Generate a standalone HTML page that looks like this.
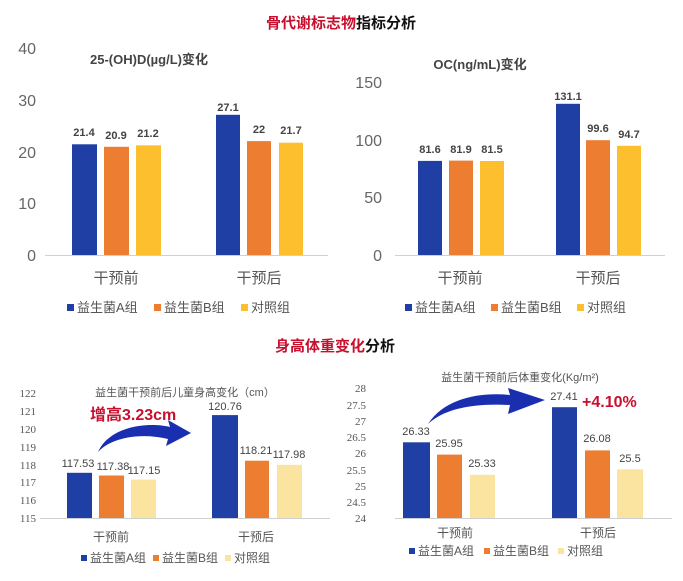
<!DOCTYPE html>
<html><head><meta charset="utf-8"><style>
html,body{margin:0;padding:0;background:#fff;}
svg{display:block;}
text{font-family:"Liberation Sans","Noto Sans CJK SC",sans-serif;}
.ser{font-family:"Liberation Serif","Noto Serif CJK SC",serif;}
</style></head><body>
<svg width="683" height="581" viewBox="0 0 683 581" xmlns="http://www.w3.org/2000/svg">
<text x="341" y="28" text-anchor="middle" font-size="15" font-weight="bold"><tspan fill="#c8102e">骨代谢标志物</tspan><tspan fill="#111">指标分析</tspan></text>
<text x="335" y="351" text-anchor="middle" font-size="15" font-weight="bold"><tspan fill="#c8102e">身高体重变化</tspan><tspan fill="#111">分析</tspan></text>

<g font-size="16" fill="#666" text-anchor="end">
<text x="36" y="54">40</text><text x="36" y="106">30</text><text x="36" y="158">20</text><text x="36" y="209">10</text><text x="36" y="261">0</text>
</g>
<text x="90" y="64" font-size="13" font-weight="bold" fill="#444">25-(OH)D(µg/L)变化</text>
<line x1="45" y1="255.5" x2="328" y2="255.5" stroke="#d0d0d0"/>
<rect x="72" y="144.3" width="25" height="110.7" fill="#1f3fa5"/>
<rect x="104" y="146.8" width="25" height="108.2" fill="#ed7d31"/>
<rect x="136" y="145.3" width="25" height="109.7" fill="#fdbf2d"/>
<rect x="216" y="114.8" width="24" height="140.2" fill="#1f3fa5"/>
<rect x="247" y="141.1" width="24" height="113.9" fill="#ed7d31"/>
<rect x="279" y="142.7" width="24" height="112.3" fill="#fdbf2d"/>
<g font-size="11" font-weight="bold" fill="#444" text-anchor="middle">
<text x="84" y="136">21.4</text><text x="116" y="139">20.9</text><text x="148" y="137">21.2</text>
<text x="228" y="111">27.1</text><text x="259" y="133">22</text><text x="291" y="134">21.7</text>
</g>
<g font-size="15" fill="#555" text-anchor="middle"><text x="116" y="283">干预前</text><text x="259" y="283">干预后</text></g>
<g font-size="13" fill="#555">
<rect x="67" y="304" width="7" height="7" fill="#1f3fa5"/><text x="77" y="312">益生菌A组</text>
<rect x="154" y="304" width="7" height="7" fill="#ed7d31"/><text x="164" y="312">益生菌B组</text>
<rect x="241" y="304" width="7" height="7" fill="#fdbf2d"/><text x="251" y="312">对照组</text>
</g>

<g font-size="16" fill="#666" text-anchor="end">
<text x="382" y="88">150</text><text x="382" y="146">100</text><text x="382" y="203">50</text><text x="382" y="261">0</text>
</g>
<text x="480" y="69" text-anchor="middle" font-size="13" font-weight="bold" fill="#444">OC(ng/mL)变化</text>
<line x1="395" y1="255.5" x2="665" y2="255.5" stroke="#d0d0d0"/>
<rect x="418" y="160.9" width="24" height="94.1" fill="#1f3fa5"/>
<rect x="449" y="160.6" width="24" height="94.4" fill="#ed7d31"/>
<rect x="480" y="161" width="24" height="94" fill="#fdbf2d"/>
<rect x="556" y="103.8" width="24" height="151.2" fill="#1f3fa5"/>
<rect x="586" y="140.2" width="24" height="114.8" fill="#ed7d31"/>
<rect x="617" y="145.8" width="24" height="109.2" fill="#fdbf2d"/>
<g font-size="11" font-weight="bold" fill="#444" text-anchor="middle">
<text x="430" y="153">81.6</text><text x="461" y="153">81.9</text><text x="492" y="153">81.5</text>
<text x="568" y="100">131.1</text><text x="598" y="132">99.6</text><text x="629" y="138">94.7</text>
</g>
<g font-size="15" fill="#555" text-anchor="middle"><text x="460" y="283">干预前</text><text x="598" y="283">干预后</text></g>
<g font-size="13" fill="#555">
<rect x="405" y="304" width="7" height="7" fill="#1f3fa5"/><text x="415" y="312">益生菌A组</text>
<rect x="491" y="304" width="7" height="7" fill="#ed7d31"/><text x="501" y="312">益生菌B组</text>
<rect x="577" y="304" width="7" height="7" fill="#fdbf2d"/><text x="587" y="312">对照组</text>
</g>

<g font-size="11" fill="#555" text-anchor="end">
<text class="ser" x="36" y="397">122</text><text class="ser" x="36" y="415">121</text><text class="ser" x="36" y="433">120</text><text class="ser" x="36" y="451">119</text>
<text class="ser" x="36" y="469">118</text><text class="ser" x="36" y="486">117</text><text class="ser" x="36" y="504">116</text><text class="ser" x="36" y="522">115</text>
</g>
<text x="185" y="396" text-anchor="middle" font-size="11" fill="#555">益生菌干预前后儿童身高变化（cm）</text>
<line x1="40" y1="518.5" x2="330" y2="518.5" stroke="#d0d0d0"/>
<rect x="67" y="472.8" width="25" height="45.2" fill="#1f3fa5"/>
<rect x="99" y="475.5" width="25" height="42.5" fill="#ed7d31"/>
<rect x="131" y="479.6" width="25" height="38.4" fill="#fbe3a0"/>
<rect x="212" y="415.1" width="26" height="102.9" fill="#1f3fa5"/>
<rect x="245" y="460.7" width="24" height="57.3" fill="#ed7d31"/>
<rect x="277" y="464.8" width="25" height="53.2" fill="#fbe3a0"/>
<g font-size="11" fill="#444" text-anchor="middle">
<text x="78" y="467">117.53</text><text x="113" y="470">117.38</text><text x="144" y="474">117.15</text>
<text x="225" y="410">120.76</text><text x="256" y="454">118.21</text><text x="289" y="458">117.98</text>
</g>
<path d="M98,452 C110,425 150,422 170,427 L168,420 L191,433 L166,446 L168,439 C140,432 110,438 98,452 Z" fill="#1a2fb0"/>
<text x="90" y="420" font-size="16" font-weight="bold" fill="#c8102e">增高3.23cm</text>
<g font-size="12" fill="#555" text-anchor="middle"><text x="111" y="541">干预前</text><text x="256" y="541">干预后</text></g>
<g font-size="12" fill="#555">
<rect x="81" y="555" width="6" height="6" fill="#1f3fa5"/><text x="90" y="562">益生菌A组</text>
<rect x="153" y="555" width="6" height="6" fill="#ed7d31"/><text x="162" y="562">益生菌B组</text>
<rect x="225" y="555" width="6" height="6" fill="#fbe3a0"/><text x="234" y="562">对照组</text>
</g>

<g font-size="11" fill="#555" text-anchor="end">
<text class="ser" x="366" y="392">28</text><text class="ser" x="366" y="409">27.5</text><text class="ser" x="366" y="425">27</text><text class="ser" x="366" y="441">26.5</text>
<text class="ser" x="366" y="457">26</text><text class="ser" x="366" y="474">25.5</text><text class="ser" x="366" y="490">25</text><text class="ser" x="366" y="506">24.5</text><text class="ser" x="366" y="522">24</text>
</g>
<text x="520" y="381" text-anchor="middle" font-size="11" fill="#555">益生菌干预前后体重变化(Kg/m²)</text>
<line x1="395" y1="518.5" x2="672" y2="518.5" stroke="#d0d0d0"/>
<rect x="403" y="442.3" width="27" height="75.7" fill="#1f3fa5"/>
<rect x="437" y="454.6" width="25" height="63.4" fill="#ed7d31"/>
<rect x="470" y="474.8" width="25" height="43.2" fill="#fbe3a0"/>
<rect x="552" y="407.2" width="25" height="110.8" fill="#1f3fa5"/>
<rect x="585" y="450.4" width="25" height="67.6" fill="#ed7d31"/>
<rect x="617" y="469.3" width="26" height="48.7" fill="#fbe3a0"/>
<g font-size="11" fill="#444" text-anchor="middle">
<text x="416" y="435">26.33</text><text x="449" y="447">25.95</text><text x="482" y="467">25.33</text>
<text x="564" y="400">27.41</text><text x="597" y="442">26.08</text><text x="630" y="462">25.5</text>
</g>
<path d="M428,424 C445,398 480,392 510,395 L508,388 L545,400 L508,414 L510,405 C475,403 445,408 428,424 Z" fill="#1a2fb0"/>
<text x="582" y="407" font-size="16" font-weight="bold" fill="#c8102e">+4.10%</text>
<g font-size="12" fill="#555" text-anchor="middle"><text x="455" y="537">干预前</text><text x="598" y="537">干预后</text></g>
<g font-size="12" fill="#555">
<rect x="409" y="548" width="6" height="6" fill="#1f3fa5"/><text x="418" y="555">益生菌A组</text>
<rect x="484" y="548" width="6" height="6" fill="#ed7d31"/><text x="493" y="555">益生菌B组</text>
<rect x="558" y="548" width="6" height="6" fill="#fbe3a0"/><text x="567" y="555">对照组</text>
</g>
</svg>
</body></html>
